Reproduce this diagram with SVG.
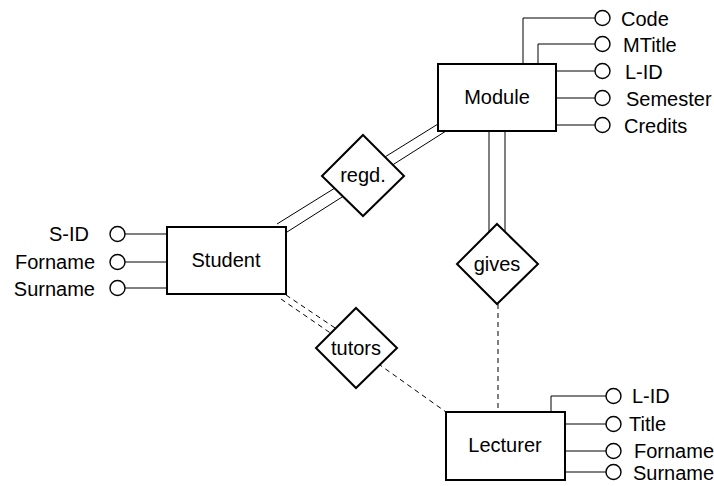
<svg xmlns="http://www.w3.org/2000/svg" width="714" height="486" viewBox="0 0 714 486">
<style>
.box{fill:#fff;stroke:#000;stroke-width:2}
.dia{fill:#fff;stroke:#000;stroke-width:2}
.ln{fill:none;stroke:#000;stroke-width:1}
.dash{fill:none;stroke:#000;stroke-width:1;stroke-dasharray:5,4}
.att{fill:#fff;stroke:#000;stroke-width:1.4}
text{font-family:"Liberation Sans",Arial,sans-serif;font-size:20px;fill:#000}
.c{text-anchor:middle}
.e{text-anchor:end}
</style>
<rect width="714" height="486" fill="#fff"/>
<g id="connectors">
<line class="ln" x1="277" y1="224" x2="438" y2="124"/>
<line class="ln" x1="287" y1="232" x2="446" y2="131"/>
<line class="ln" x1="489" y1="131" x2="489" y2="250"/>
<line class="ln" x1="505" y1="131" x2="505" y2="250"/>
<line class="dash" x1="498" y1="304" x2="498" y2="412"/>
<line class="dash" x1="286" y1="295" x2="350" y2="338"/>
<line class="dash" x1="281" y1="299" x2="345" y2="343"/>
<line class="dash" x1="356" y1="348" x2="446" y2="412"/>
</g>
<g id="module">
<path class="ln" d="M523,64 V18 H595 M538,64 V44 H595 M556,71 H595 M556,98 H595 M556,125 H595"/>
<rect class="box" x="438" y="64" width="118" height="67"/>
<text class="c" x="497" y="104">Module</text>
<circle class="att" cx="602.5" cy="18" r="7.5"/>
<circle class="att" cx="602.5" cy="44" r="7.5"/>
<circle class="att" cx="602.5" cy="71" r="7.5"/>
<circle class="att" cx="602.5" cy="98" r="7.5"/>
<circle class="att" cx="602.5" cy="125" r="7.5"/>
<text x="621" y="26">Code</text>
<text x="623" y="52">MTitle</text>
<text x="625" y="79">L-ID</text>
<text x="626" y="106">Semester</text>
<text x="624" y="133">Credits</text>
</g>
<g id="student">
<path class="ln" d="M125,234 H167 M125,262 H167 M125,288 H167"/>
<rect class="box" x="167" y="227" width="119" height="67"/>
<text class="c" x="226" y="267">Student</text>
<circle class="att" cx="117.5" cy="234" r="7.5"/>
<circle class="att" cx="117.5" cy="262" r="7.5"/>
<circle class="att" cx="117.5" cy="288" r="7.5"/>
<text class="e" x="89" y="241">S-ID</text>
<text class="e" x="95" y="269">Forname</text>
<text class="e" x="95" y="296">Surname</text>
</g>
<g id="lecturer">
<path class="ln" d="M551,412 V396 H606 M565,424 H606 M565,451 H606 M565,472 H606"/>
<rect class="box" x="446" y="412" width="119" height="68"/>
<text class="c" x="505" y="452">Lecturer</text>
<circle class="att" cx="613.5" cy="396" r="7.5"/>
<circle class="att" cx="613.5" cy="424" r="7.5"/>
<circle class="att" cx="613.5" cy="451" r="7.5"/>
<circle class="att" cx="613.5" cy="472" r="7.5"/>
<text x="632" y="403">L-ID</text>
<text x="629" y="431">Title</text>
<text x="634" y="458">Forname</text>
<text x="633" y="480">Surname</text>
</g>
<g id="regd">
<polygon class="dia" points="363,135 404,176 363,216 322,176"/>
<text class="c" x="363" y="182">regd.</text>
</g>
<g id="gives">
<polygon class="dia" points="497,224 538,264 497,304 457,264"/>
<text class="c" x="497" y="271">gives</text>
</g>
<g id="tutors">
<polygon class="dia" points="356,308 397,348 356,388 316,348"/>
<text class="c" x="356" y="355">tutors</text>
</g>
</svg>
